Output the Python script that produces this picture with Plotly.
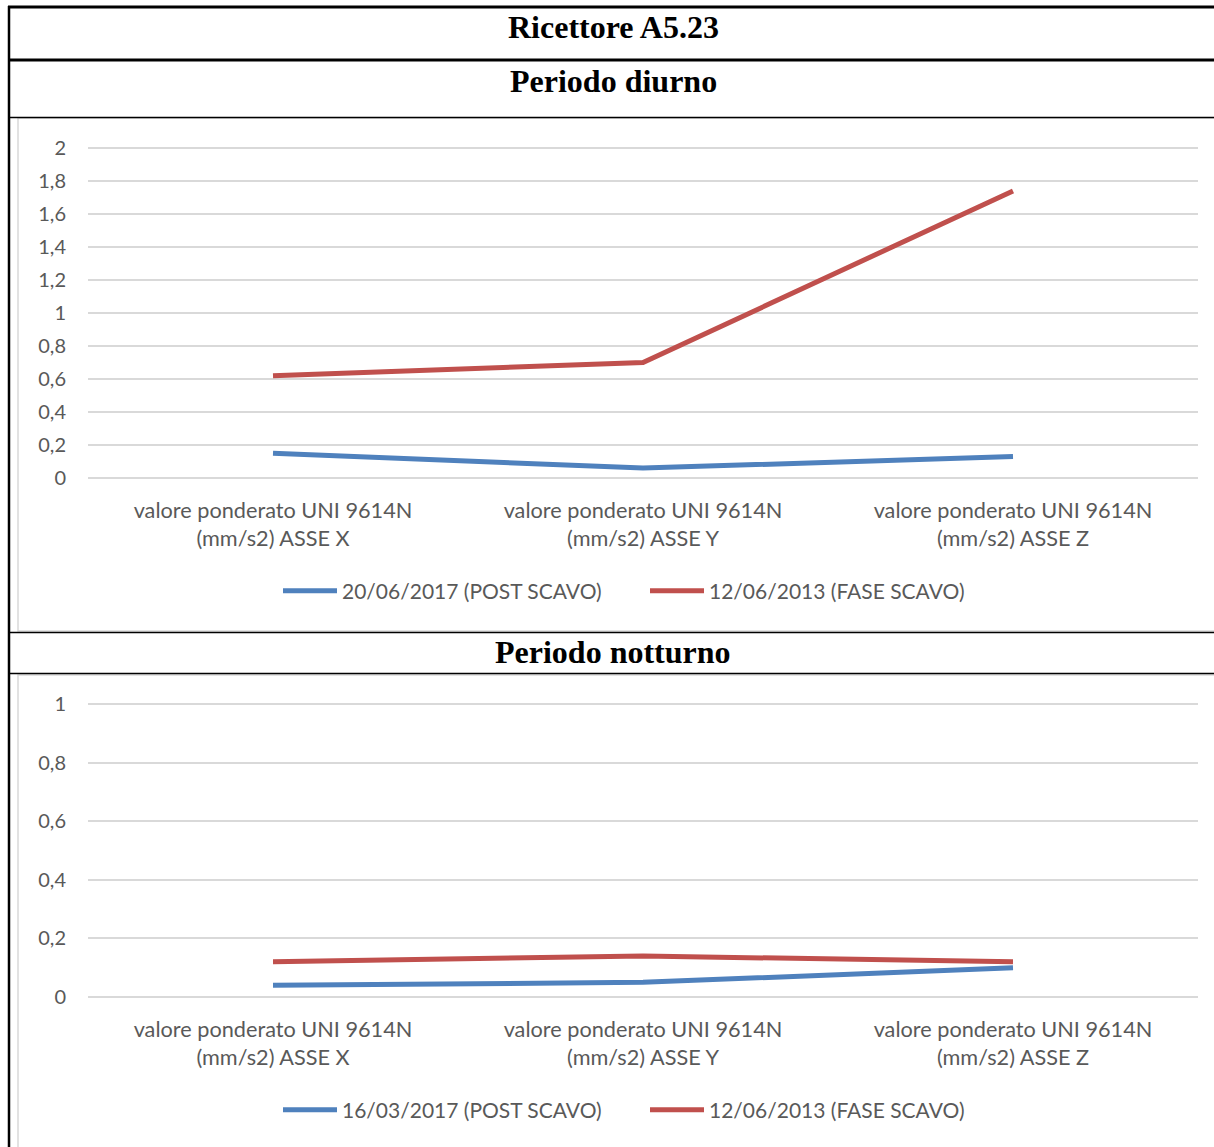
import plotly.graph_objects as go

W, H = 1214, 1147

categories = [
    "valore ponderato UNI 9614N<br>(mm/s2) ASSE X",
    "valore ponderato UNI 9614N<br>(mm/s2) ASSE Y",
    "valore ponderato UNI 9614N<br>(mm/s2) ASSE Z",
]

# Periodo diurno
day_post_name = "20/06/2017 (POST SCAVO)"
day_post = [0.15, 0.06, 0.13]
day_fase_name = "12/06/2013 (FASE SCAVO)"
day_fase = [0.62, 0.70, 1.74]

# Periodo notturno
night_post_name = "16/03/2017 (POST SCAVO)"
night_post = [0.04, 0.05, 0.10]
night_fase_name = "12/06/2013 (FASE SCAVO)"
night_fase = [0.12, 0.14, 0.12]

BLUE = "#4f81bd"
RED = "#c0504d"
GRID = "#d9d9d9"
TXT = "#595959"
FONT = "Lato, Open Sans, sans-serif"
SERIF = "Liberation Serif, Times New Roman, serif"


def px(x):
    return x / W


def py(y):
    return 1 - y / H


def domain(y_zero, y_top, top_val, pad):
    # pixel rows of value 0 and of top_val; range gets a small pad above
    # the last tick so its grid line is still drawn
    per = (y_zero - y_top) / top_val
    return [py(y_zero), py(y_top - per * pad)], [0, top_val + pad]


fig = go.Figure()

line_kw = dict(mode="lines", line=dict(width=5), hoverinfo="skip")
fig.add_trace(go.Scatter(x=categories, y=day_post, name=day_post_name,
                         line_color=BLUE, xaxis="x", yaxis="y", legend="legend",
                         **line_kw))
fig.add_trace(go.Scatter(x=categories, y=day_fase, name=day_fase_name,
                         line_color=RED, xaxis="x", yaxis="y", legend="legend",
                         **line_kw))
fig.add_trace(go.Scatter(x=categories, y=night_post, name=night_post_name,
                         line_color=BLUE, xaxis="x2", yaxis="y2", legend="legend2",
                         **line_kw))
fig.add_trace(go.Scatter(x=categories, y=night_fase, name=night_fase_name,
                         line_color=RED, xaxis="x2", yaxis="y2", legend="legend2",
                         **line_kw))

xaxis_kw = dict(
    type="category", range=[-0.5, 2.5], domain=[px(88), px(1198)],
    showgrid=False, zeroline=False, showline=False,
    ticks="outside", ticklen=13, tickcolor="rgba(0,0,0,0)",
    tickfont=dict(family=FONT, size=21.7, color=TXT), fixedrange=True,
)
yaxis_kw = dict(
    showgrid=True, gridcolor=GRID, gridwidth=2,
    zeroline=True, zerolinecolor=GRID, zerolinewidth=2,
    showline=False, ticks="outside", ticklen=17, tickcolor="rgba(0,0,0,0)",
    tickfont=dict(family=FONT, size=20, color=TXT), fixedrange=True,
    tick0=0,
)

legend_kw = dict(
    orientation="h", xanchor="center", yanchor="middle",
    font=dict(family=FONT, size=21, color=TXT),
    bgcolor="rgba(0,0,0,0)", itemwidth=54, tracegroupgap=0,
    entrywidth=298, entrywidthmode="pixels",
)

d1, r1 = domain(478, 148, 2, 0.01)
d2, r2 = domain(997, 704, 1, 0.005)

fig.update_layout(
    width=W, height=H,
    margin=dict(l=0, r=0, t=0, b=0, autoexpand=False),
    paper_bgcolor="white", plot_bgcolor="white",
    separators=", ",
    showlegend=True,
    xaxis=dict(anchor="y", **xaxis_kw),
    yaxis=dict(anchor="x", domain=d1, range=r1, dtick=0.2, **yaxis_kw),
    xaxis2=dict(anchor="y2", **xaxis_kw),
    yaxis2=dict(anchor="x2", domain=d2, range=r2, dtick=0.2, **yaxis_kw),
    legend=dict(x=px(645), y=py(591), **legend_kw),
    legend2=dict(x=px(645), y=py(1110), **legend_kw),
)

# Table frame and chart boxes
shapes = []
shapes.append(dict(type="rect", xref="paper", yref="paper",
                   x0=px(18), x1=px(1216), y0=py(631), y1=py(118),
                   line=dict(color=GRID, width=1.5)))
shapes.append(dict(type="rect", xref="paper", yref="paper",
                   x0=px(18), x1=px(1216), y0=py(1150), y1=py(675),
                   line=dict(color=GRID, width=1.5)))
for y, w in [(7, 3), (60, 3), (117.5, 1.5), (632.5, 1.5), (673.5, 1.5)]:
    shapes.append(dict(type="line", xref="paper", yref="paper",
                       x0=px(8), x1=px(1216), y0=py(y), y1=py(y),
                       line=dict(color="black", width=w)))
shapes.append(dict(type="line", xref="paper", yref="paper",
                   x0=px(9), x1=px(9), y0=py(6), y1=py(1150),
                   line=dict(color="black", width=2.5)))
fig.update_layout(shapes=shapes)

titles = [("Ricettore A5.23", 27), ("Periodo diurno", 81), ("Periodo notturno", 652)]
fig.update_layout(annotations=[
    dict(text=f"<b>{t}</b>", x=px(613), y=py(y), xref="paper", yref="paper",
         xanchor="center", yanchor="middle", showarrow=False,
         font=dict(family=SERIF, size=32, color="black"))
    for t, y in titles
])

fig.write_html("out.html")
